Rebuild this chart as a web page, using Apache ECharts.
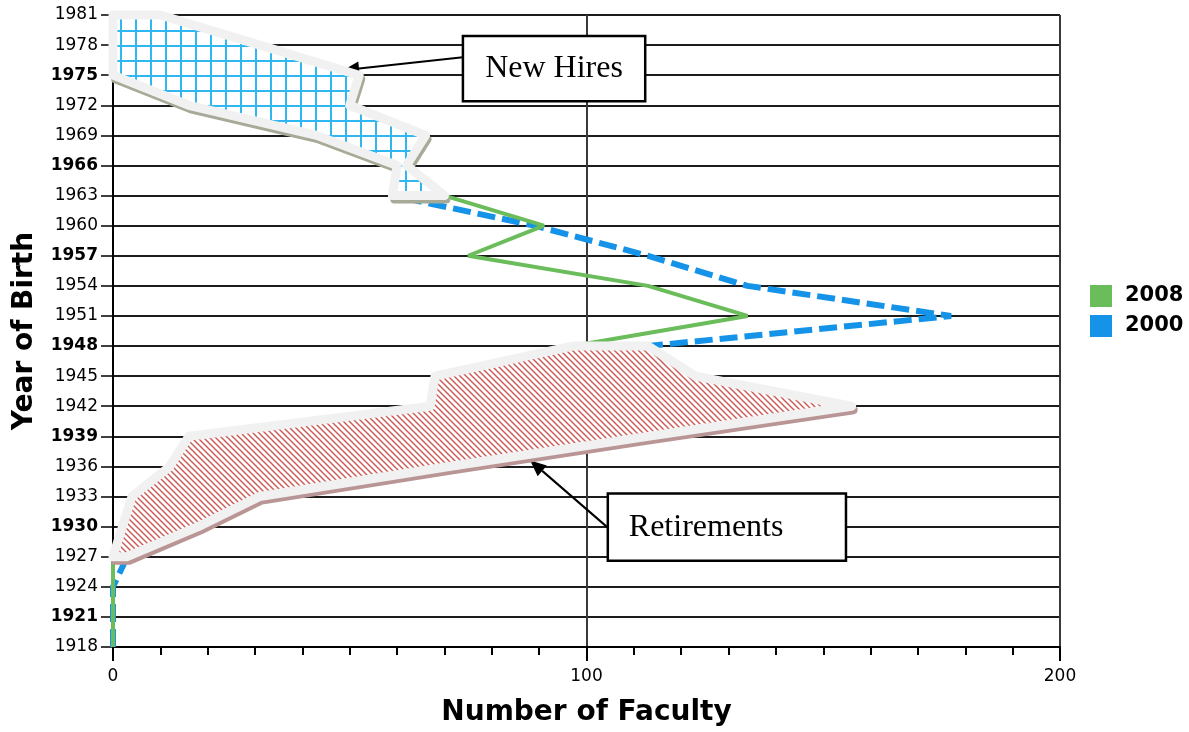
<!DOCTYPE html>
<html>
<head>
<meta charset="utf-8">
<script src="https://cdn.jsdelivr.net/npm/echarts@6/dist/echarts.min.js"></script>
<style>
  html, body { margin: 0; padding: 0; background: #ffffff; }
  #chart { width: 1189px; height: 732px; }
</style>
</head>
<body>
<div id="chart"></div>
<script>
// Birth-year cohorts, every three years
const years = ['1918','1921','1924','1927','1930','1933','1936','1939','1942','1945','1948',
               '1951','1954','1957','1960','1963','1966','1969','1972','1975','1978','1981'];
// Number of faculty per cohort
const faculty2008 = [0, 0, 0, 0, 2, 4, 12, 16, 67, 68, 97, 134, 113, 75, 91, 70, 62, 66, 50, 52, 31, 10];
const faculty2000 = [0, 0, 0, 3, 18, 31, 71, 113, 156, 123, 113, 177, 134, 113, 89, 59, 60, 43, 16, 0, 0, 0];
// Year labels printed in bold
const boldYears = ['1921', '1930', '1939', '1948', '1957', '1966', '1975'];
// Cohort spans of the highlighted regions between the two years
const newHiresSpan = ['1963', '1981'];
const retirementsSpan = ['1927', '1948'];
const seriesNames = ['2008', '2000'];

const GREEN = '#6bbc5a';
const BLUE = '#1593e8';

// Tiled fills for the highlighted regions
function gridTile() {
  const c = document.createElement('canvas');
  c.width = 15; c.height = 15;
  const g = c.getContext('2d');
  g.fillStyle = '#ffffff'; g.fillRect(0, 0, 15, 15);
  g.fillStyle = '#30b6f1';
  g.fillRect(0, 0, 15, 2);
  g.fillRect(0, 0, 2, 15);
  return c;
}
function hatchTile() {
  const s = 6;
  const c = document.createElement('canvas');
  c.width = s; c.height = s;
  const g = c.getContext('2d');
  g.fillStyle = '#ffffff'; g.fillRect(0, 0, s, s);
  g.strokeStyle = '#cc5e5a';
  g.lineWidth = 1.5;
  g.beginPath();
  for (let k = -1; k <= 1; k++) {
    g.moveTo(-1, -1 + k * s);
    g.lineTo(s + 1, s + 1 + k * s);
  }
  g.stroke();
  return c;
}
const gridPattern = { image: gridTile(), repeat: 'repeat' };
const hatchPattern = { image: hatchTile(), repeat: 'repeat' };

// Region enclosed by the 2008 and 2000 lines over a span of cohorts
function regionSeries(span, fill, shadow) {
  const i0 = years.indexOf(span[0]);
  const i1 = years.indexOf(span[1]);
  return {
    type: 'custom',
    silent: true,
    z: 5,
    data: [0],
    renderItem: function (params, api) {
      const pts = [];
      for (let i = i0; i <= i1; i++) pts.push(api.coord([faculty2008[i], i]));
      for (let i = i1; i >= i0; i--) pts.push(api.coord([faculty2000[i], i]));
      return {
        type: 'group',
        children: [
          { type: 'polygon', x: 2, y: 4, shape: { points: pts },
            style: { fill: shadow, stroke: shadow, lineWidth: 8, lineJoin: 'round' } },
          { type: 'polygon', shape: { points: pts },
            style: { fill: fill, stroke: '#f1f1f1', lineWidth: 9, lineJoin: 'round' } }
        ]
      };
    }
  };
}

const chart = echarts.init(document.getElementById('chart'), null, { renderer: 'canvas' });

const option = {
  animation: false,
  backgroundColor: '#ffffff',
  grid: { left: 113, right: 129, top: 15, bottom: 85, outerBoundsMode: 'none' },
  legend: {
    data: seriesNames,
    orient: 'vertical',
    left: 1090,
    top: 285,
    padding: 0,
    itemWidth: 22,
    itemHeight: 22,
    itemGap: 8,
    icon: 'rect',
    selectedMode: false,
    textStyle: { fontFamily: 'DejaVu Sans', fontWeight: 'bold', fontSize: 21, color: '#000', padding: [0, 0, 0, 8] }
  },
  xAxis: {
    type: 'value',
    min: 0,
    max: 200,
    interval: 100,
    name: 'Number of Faculty',
    nameLocation: 'middle',
    nameGap: 52,
    nameTextStyle: { fontFamily: 'DejaVu Sans', fontWeight: 'bold', fontSize: 28, color: '#000' },
    axisLine: { show: true, onZero: false, lineStyle: { color: '#000', width: 2 } },
    axisTick: { show: true, length: 14, lineStyle: { color: '#000', width: 2 } },
    minorTick: { show: true, splitNumber: 10, length: 8, lineStyle: { color: '#000', width: 2 } },
    axisLabel: { margin: 21, fontFamily: 'DejaVu Sans', fontSize: 17, color: '#000' },
    splitLine: { show: true, lineStyle: { color: '#3a3a3a', width: 2 } },
    minorSplitLine: { show: false }
  },
  yAxis: {
    type: 'category',
    data: years,
    boundaryGap: false,
    name: 'Year of Birth',
    nameLocation: 'middle',
    nameGap: 74,
    nameTextStyle: { fontFamily: 'DejaVu Sans', fontWeight: 'bold', fontSize: 28, color: '#000' },
    axisLine: { show: true, onZero: false, lineStyle: { color: '#000', width: 2 } },
    axisTick: { show: true, length: 12, interval: 0, lineStyle: { color: '#000', width: 1.5 } },
    axisLabel: {
      interval: 0,
      margin: 15,
      formatter: function (v) { return boldYears.indexOf(v) >= 0 ? '{b|' + v + '}' : '{n|' + v + '}'; },
      rich: {
        n: { fontFamily: 'DejaVu Sans', fontSize: 17, color: '#000' },
        b: { fontFamily: 'DejaVu Sans', fontSize: 17, fontWeight: 'bold', color: '#000' }
      }
    },
    splitLine: { show: true, interval: 0, lineStyle: { color: '#1c1c1c', width: 2 } }
  },
  series: [
    {
      name: '2000',
      type: 'line',
      data: faculty2000,
      symbol: 'none',
      z: 2,
      itemStyle: { color: BLUE },
      lineStyle: { color: BLUE, width: 6, type: [18, 7] }
    },
    {
      name: '2008',
      type: 'line',
      data: faculty2008,
      symbol: 'none',
      z: 3,
      itemStyle: { color: GREEN },
      lineStyle: { color: GREEN, width: 4 }
    },
    regionSeries(newHiresSpan, gridPattern, '#a6aa96'),
    regionSeries(retirementsSpan, hatchPattern, '#b99595')
  ]
};

chart.setOption(option);

// Callout boxes with arrows, anchored in data units
function toPixel(value, year) {
  const f = (year - Number(years[0])) / 3;
  const i = Math.max(0, Math.min(years.length - 2, Math.floor(f)));
  const t = f - i;
  const a = chart.convertToPixel({ gridIndex: 0 }, [value, i]);
  const b = chart.convertToPixel({ gridIndex: 0 }, [value, i + 1]);
  return [a[0], a[1] + (b[1] - a[1]) * t];
}

function callout(label, box, from, tip, textAlign, textPad) {
  const tl = toPixel(box[0], box[1]);
  const br = toPixel(box[2], box[3]);
  const p0 = toPixel(from[0], from[1]);
  const p1 = toPixel(tip[0], tip[1]);
  const dx = p1[0] - p0[0], dy = p1[1] - p0[1];
  const len = Math.sqrt(dx * dx + dy * dy);
  const ux = dx / len, uy = dy / len;
  const headLen = 16, headHalf = 7;
  const base = [p1[0] - ux * headLen, p1[1] - uy * headLen];
  const head = [
    p1,
    [base[0] - uy * headHalf, base[1] + ux * headHalf],
    [base[0] + uy * headHalf, base[1] - ux * headHalf]
  ];
  const w = br[0] - tl[0], h = br[1] - tl[1];
  return {
    type: 'group',
    z: 100,
    children: [
      { type: 'line', shape: { x1: p0[0], y1: p0[1], x2: base[0], y2: base[1] },
        style: { stroke: '#000', lineWidth: 2 } },
      { type: 'polygon', shape: { points: head }, style: { fill: '#000' } },
      { type: 'rect', shape: { x: tl[0], y: tl[1], width: w, height: h },
        style: { fill: '#ffffff', stroke: '#000', lineWidth: 2.5 } },
      { type: 'text',
        x: textAlign === 'center' ? tl[0] + w / 2 : tl[0] + textPad,
        y: tl[1] + h / 2,
        style: { text: label, fontFamily: 'Liberation Serif', fontSize: 32, fill: '#000',
                 align: textAlign, verticalAlign: 'middle' } }
    ]
  };
}

chart.setOption({
  graphic: [
    callout('New Hires', [73.9, 1978.9, 112.4, 1972.4], [73.9, 1976.8], [48.6, 1975.5], 'center', 0),
    callout('Retirements', [104.5, 1933.3, 154.8, 1926.6], [104.5, 1929.9], [88.1, 1936.6], 'left', 21)
  ]
});
</script>
</body>
</html>
